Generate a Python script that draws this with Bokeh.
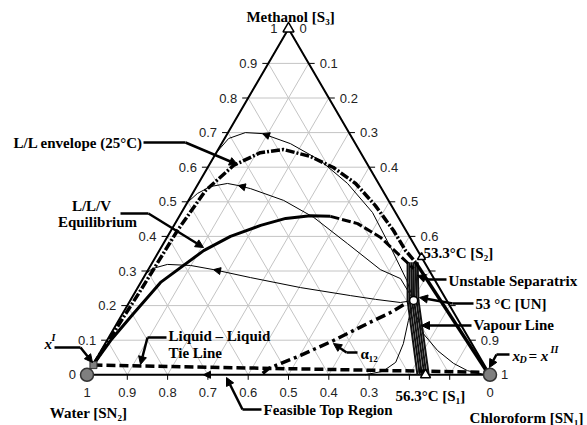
import numpy as np
from bokeh.plotting import figure
from bokeh.models import Range1d, Label, Arrow, NormalHead, ColumnDataSource
from bokeh.embed import file_html
from bokeh.resources import INLINE
from bokeh.core.properties import value

# ---------------- data: mole fractions (chloroform, methanol) ----------------
ticks = [0.0, 0.1, 0.2, 0.3, 0.4, 0.5, 0.6, 0.7, 0.8, 0.9, 1.0]
left_labels = ["0", "0.1", "0.2", "0.3", "0.4", "0.5", "0.6", "0.7", "0.8", "0.9", "1"]      # methanol
right_labels = ["0", "0.1", "0.2", "0.3", "0.4", "0.5", "0.6", "", "", "0.9", "1"]          # chloroform
bottom_labels = ["0", "", "", "0.3", "0.4", "0.5", "0.6", "0.7", "0.8", "0.9", "1"]         # water

# L/L envelope (25 C)
env_c = [0.001, 0.011, 0.016, 0.028, 0.061, 0.109, 0.162, 0.239, 0.312, 0.390, 0.471, 0.552, 0.611, 0.653]
env_m = [0.030, 0.244, 0.417, 0.533, 0.605, 0.642, 0.651, 0.631, 0.599, 0.553, 0.489, 0.417, 0.359, 0.325]
env2_c = [0.653, 0.990]
env2_m = [0.325, 0.007]
# L/L/V equilibrium
llv_c = [0.001, 0.009, 0.027, 0.049, 0.110, 0.156, 0.215, 0.267, 0.324, 0.375]
llv_m = [0.030, 0.099, 0.177, 0.267, 0.359, 0.400, 0.432, 0.452, 0.460, 0.458]
llvd_c = [0.375, 0.453, 0.530, 0.595, 0.657]
llvd_m = [0.458, 0.437, 0.397, 0.351, 0.307]
# residue curves from UN
ra_c = [0.703, 0.657, 0.578, 0.474, 0.370, 0.270, 0.171, 0.087, 0.043, 0.010, 0.0]
ra_m = [0.215, 0.273, 0.359, 0.469, 0.553, 0.619, 0.668, 0.697, 0.700, 0.683, 0.642]
rb_c = [0.703, 0.639, 0.576, 0.457, 0.335, 0.236, 0.137, 0.102, 0.072, 0.034, 0.012, 0.0]
rb_m = [0.215, 0.278, 0.304, 0.379, 0.455, 0.504, 0.538, 0.547, 0.553, 0.544, 0.524, 0.498]
rc_c = [0.703, 0.673, 0.607, 0.539, 0.404, 0.265, 0.162, 0.099, 0.040, 0.009, 0.0]
rc_m = [0.215, 0.209, 0.218, 0.229, 0.252, 0.281, 0.304, 0.316, 0.319, 0.307, 0.293]
rd_c = [0.703, 0.719, 0.740, 0.748, 0.729, 0.690]
rd_m = [0.215, 0.157, 0.090, 0.036, 0.010, 0.0]
re_c = [0.703, 0.732, 0.775, 0.835, 0.893, 0.938, 0.990]
re_m = [0.215, 0.171, 0.119, 0.070, 0.033, 0.012, 0.0]
edge_arrow_c = [0.320, 0.289]
# alpha_12 line
al_c = [0.434, 0.441, 0.502, 0.562, 0.622, 0.663, 0.691]
al_m = [0.004, 0.018, 0.056, 0.099, 0.148, 0.180, 0.209]
# liquid-liquid tie line  x^I -> x^II
tie_c = [0.002, 0.990]
tie_m = [0.028, 0.007]
# vapour line bundle
vap_top_c = [0.633, 0.638, 0.643, 0.648, 0.653, 0.658]
vap_top_m = 0.325
vap_mid_c = [0.688, 0.693, 0.699, 0.704, 0.710, 0.715]
vap_mid_m = 0.215
vap_bot_c = [0.820, 0.826, 0.831, 0.837, 0.842, 0.848]
# singular points
UN = (0.703, 0.215)
S2 = (0.660, 0.340)
S1 = (0.840, 0.0)
S3 = (0.0, 1.0)
SN1 = (1.0, 0.0)
SN2 = (0.0, 0.0)
XI = (0.002, 0.028)

# ---------------- figure ----------------
XS, YS = 403.0, 346.0   # px per unit
X0, Y0 = 86.5, 374.3    # pixel position of the water vertex
W, H = 587, 425
p = figure(width=W, height=H, x_range=Range1d(-X0 / XS, (W - X0) / XS),
           y_range=Range1d(-(H - Y0) / YS, Y0 / YS),
           output_backend="svg", toolbar_location=None, x_axis_type=None, y_axis_type=None,
           min_border=0)
p.outline_line_color = None
p.background_fill_color = "white"


def tx(c, m):
    c = np.asarray(c, float); m = np.asarray(m, float)
    return c + m / 2.0, m


def P(px, py):  # pixel -> data (for annotations only)
    return (px - X0) / XS, (Y0 - py) / YS


# grid
gx, gy = [], []
for v in ticks[1:-1]:
    for cc, mm in (([0, 1 - v], [v, v]), ([v, v], [0, 1 - v]), ([1 - v, 0], [0, 1 - v])):
        a, b = tx(cc, mm)
        gx.append(list(a)); gy.append(list(b))
p.multi_line(gx, gy, line_color="#c4c4c4", line_width=1)

# triangle
ex, ey = tx([0, 1, 0, 0], [0, 0, 1, 0])
p.line(ex, ey, line_color="black", line_width=2)

# ticks
tv = np.array(ticks[1:-1])
lx, ly = tx(np.zeros_like(tv), tv)
p.segment(lx, ly, lx - 6 / XS, ly, line_color="black", line_width=1)
rx, ry = tx(tv, 1 - tv)
p.segment(rx, ry, rx + 6 / XS, ry, line_color="black", line_width=1)
bx, by = tx(1 - tv, np.zeros_like(tv))
p.segment(bx, by, bx, by - 5 / YS, line_color="black", line_width=1)

tk = np.array(ticks)
fnt = value("Liberation Sans")
a, b = tx(np.zeros_like(tk), tk)
p.text(a - 11 / XS, b, text=left_labels, text_font=fnt, text_font_size="13px",
       text_align="right", text_baseline="middle", text_color="#222222")
a, b = tx(tk, 1 - tk)
p.text(a + 11 / XS, b, text=right_labels, text_font=fnt, text_font_size="13px",
       text_align="left", text_baseline="middle", text_color="#222222")
a, b = tx(1 - tk, np.zeros_like(tk))
p.text(a, b - 18 / YS, text=bottom_labels, text_font=fnt, text_font_size="13px",
       text_align="center", text_baseline="middle", text_color="#222222")

# residue curves (thin)
for cc, mm in ((ra_c, ra_m), (rb_c, rb_m), (rc_c, rc_m), (rd_c, rd_m), (re_c, re_m)):
    a, b = tx(cc, mm)
    p.line(a, b, line_color="black", line_width=1)


def head_on(cc, mm, i, size=7):
    a, b = tx(cc, mm)
    p.add_layout(Arrow(end=NormalHead(size=size, fill_color="black", line_color="black"),
                       x_start=a[i - 1], y_start=b[i - 1], x_end=a[i], y_end=b[i],
                       line_width=0, line_alpha=0))


head_on(ra_c, ra_m, 7)
head_on(rb_c, rb_m, 7)
head_on(rc_c, rc_m, 6)
head_on(edge_arrow_c, [0, 0], 1)

# vapour line bundle
for t, mdl, bt in zip(vap_top_c, vap_mid_c, vap_bot_c):
    a, b = tx([t, mdl, bt], [vap_top_m, vap_mid_m, 0.0])
    p.line(a, b, line_color="#111111", line_width=2)

# thick curves
a, b = tx(env_c, env_m)
p.line(a, b, line_color="black", line_width=3.5, line_dash="9 2 2 2")
a, b = tx(env2_c, env2_m)
p.line(a, b, line_color="black", line_width=3.5)
a, b = tx(llv_c, llv_m)
p.line(a, b, line_color="black", line_width=3)
a, b = tx(llvd_c, llvd_m)
p.line(a, b, line_color="black", line_width=3, line_dash="9 3")
a, b = tx(al_c, al_m)
p.line(a, b, line_color="black", line_width=3.5, line_dash="10 4 3 4")
a, b = tx(tie_c, tie_m)
p.line(a, b, line_color="black", line_width=3.5, line_dash="9 4")

# markers
a, b = tx([SN2[0], SN1[0]], [SN2[1], SN1[1]])
p.scatter(a, b, marker="circle", size=13, fill_color="#7f7f7f", line_color="#333333", line_width=1.5)
a, b = tx([XI[0]], [XI[1]])
p.scatter(a, b, marker="square", size=7, fill_color="#808080", line_color="#333333", line_width=1)
a, b = tx([S3[0], S1[0], S2[0]], [S3[1], S1[1], S2[1]])
p.scatter(a, b, marker="triangle", size=[11, 10, 8], fill_color="white", line_color="black", line_width=1.5)
a, b = tx([UN[0]], [UN[1]])
p.scatter(a, b, marker="circle", size=8, fill_color="white", line_color="black", line_width=1.5)

# ---------------- annotations ----------------
SERIF = "Liberation Serif"
LS = "15px"


def lab(px, py, text, align="left", size=LS, style="bold", color="black"):
    x, y = P(px, py)
    p.add_layout(Label(x=x, y=y, text=text, text_font=SERIF, text_font_size=size,
                       text_font_style=style, text_align=align, text_baseline="middle",
                       text_color=color))


def leader(pts, size=8):
    for (x0, y0), (x1, y1) in zip(pts[:-2], pts[1:-1]):
        a0, b0 = P(x0, y0); a1, b1 = P(x1, y1)
        p.add_layout(Arrow(end=None, x_start=a0, y_start=b0, x_end=a1, y_end=b1,
                           line_width=2.5, line_color="black"))
    (x0, y0), (x1, y1) = pts[-2], pts[-1]
    a0, b0 = P(x0, y0); a1, b1 = P(x1, y1)
    p.add_layout(Arrow(end=NormalHead(size=size, fill_color="black", line_color="black"),
                       x_start=a0, y_start=b0, x_end=a1, y_end=b1,
                       line_width=2.5, line_color="black"))


lab(290, 16, "Methanol [S\u2083]", align="center")
lab(88, 412, "Water [SN\u2082]", align="center")
lab(526, 417, "Chloroform [SN\u2081]", align="center")
lab(13, 142, "L/L envelope (25\u00b0C)")
lab(91, 205, "L/L/V", align="center")
lab(97, 221, "Equilibrium", align="center")
lab(168, 335, "Liquid \u2013 Liquid")
lab(168, 352, "Tie Line")
lab(263, 409, "Feasible Top Region")
lab(360, 353, "\u03b1\u2081\u2082")
lab(423, 252, "53.3\u00b0C [S\u2082]")
lab(448, 280, "Unstable Separatrix")
lab(475, 303, "53 \u00b0C [UN]")
lab(473, 324, "Vapour Line")
lab(395, 395, "56.3\u00b0C [S\u2081]")
lab(44, 343, "x", style="bold italic", size="15px")
lab(51, 337, "I", style="bold italic", size="10px")
lab(512, 355, "x", style="bold italic", size="15px")
lab(519, 359, "D", style="bold italic", size="10px")
lab(528, 355, "= x", style="bold italic", size="15px")
lab(550, 349, "II", style="bold italic", size="10px")

leader([(143, 142), (185, 142), (237, 164)])
leader([(120, 213), (148, 213), (203, 247)])
leader([(54, 347), (80, 347), (92, 362)])
leader([(166, 337), (147, 337), (140, 364)])
leader([(261, 409), (242, 409), (226, 377)])
leader([(357, 352), (346, 352), (333, 343)])
leader([(446, 279), (428, 279), (417, 275)])
leader([(473, 303), (452, 303), (419, 297)])
leader([(471, 325), (421, 325)])
leader([(509, 354), (496, 354), (489, 367)])

open("out.html", "w").write(file_html(p, INLINE))
